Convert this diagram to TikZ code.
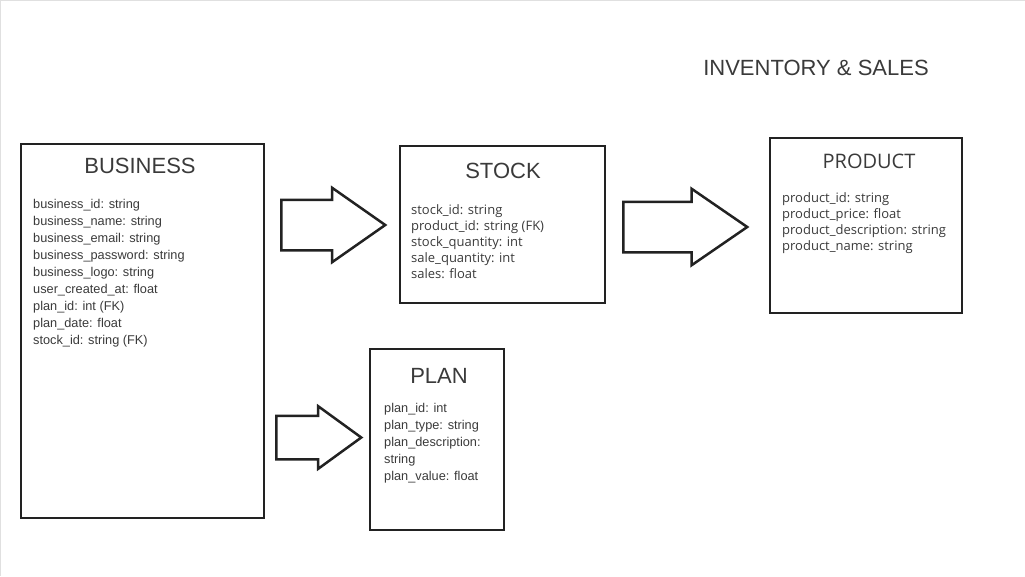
\documentclass[tikz,border=0pt]{standalone}
\usepackage{fontspec}
\setmainfont{Liberation Sans}
\newfontfamily\opensans{Open Sans}
\usetikzlibrary{shapes.arrows}
\definecolor{ink}{HTML}{3A3A3A}
\definecolor{edge}{HTML}{222222}
\tikzstyle{entity}=[rectangle, draw=edge, line width=2.5pt, inner sep=0pt]
\tikzstyle{title}=[text=ink, inner sep=0pt, font=\fontsize{22}{26}\selectfont]
\tikzstyle{fields}=[text=ink, inner sep=0pt, align=left, anchor=north west]
\tikzstyle{bigarrow}=[single arrow, draw=edge, line width=2.5pt, inner xsep=0pt, anchor=tail]
\begin{document}
\begin{tikzpicture}[x=1pt, y=-1pt]
        \useasboundingbox (0,0) rectangle (1025,576);
        \draw [black!12, line width=1pt] (0.5,576) -- (0.5,0.5) -- (1025,0.5);

        % Heading
        \node at (816,68) [title] (heading) {INVENTORY \& SALES};

        % Business
        \node at (142.5,331) [entity, minimum width=243pt, minimum height=374pt] (business) {};
        \node at (140,166) [title] (business_title) {BUSINESS};
        \node at (33,199) [fields, font=\fontsize{12.75}{17}\selectfont] (business_fields)
        {business\_id: string\\ business\_name: string\\ business\_email: string\\
         business\_password: string\\ business\_logo: string\\ user\_created\_at: float\\
         plan\_id: int (FK)\\ plan\_date: float\\ stock\_id: string (FK)};

        % Stock
        \node at (502.5,224.5) [entity, minimum width=205pt, minimum height=157pt] (stock) {};
        \node at (503,171) [title] (stock_title) {STOCK};
        \node at (411,204) [fields, font=\opensans\fontsize{13}{16.2}\selectfont] (stock_fields)
        {stock\_id: string\\ product\_id: string (FK)\\ stock\_quantity: int\\
         sale\_quantity: int\\ sales: float};

        % Product
        \node at (866,225.5) [entity, minimum width=192pt, minimum height=175pt] (product) {};
        \node at (869,161) [title, font=\opensans\fontsize{20}{24}\selectfont] (product_title) {PRODUCT};
        \node at (782,192) [fields, font=\opensans\fontsize{13}{16.3}\selectfont] (product_fields)
        {product\_id: string\\ product\_price: float\\ product\_description: string\\
         product\_name: string};

        % Plan
        \node at (437,439.5) [entity, minimum width=134pt, minimum height=181pt] (plan) {};
        \node at (439,376) [title] (plan_title) {PLAN};
        \node at (384,403) [fields, font=\fontsize{12.75}{17}\selectfont] (plan_fields)
        {plan\_id: int\\ plan\_type: string\\ plan\_description:\\ string\\ plan\_value: float};

        % Arrows
        \node at (280,225) [bigarrow, minimum height=104pt, inner ysep=24pt,
          single arrow head extend=12pt, single arrow tip angle=70] (to_stock) {};
        \node at (622,227) [bigarrow, minimum height=124pt, inner ysep=24pt,
          single arrow head extend=13pt, single arrow tip angle=69] (to_product) {};
        \node at (275,437.5) [bigarrow, minimum height=85pt, inner ysep=20.5pt,
          single arrow head extend=9.5pt, single arrow tip angle=72] (to_plan) {};
\end{tikzpicture}
\end{document}
